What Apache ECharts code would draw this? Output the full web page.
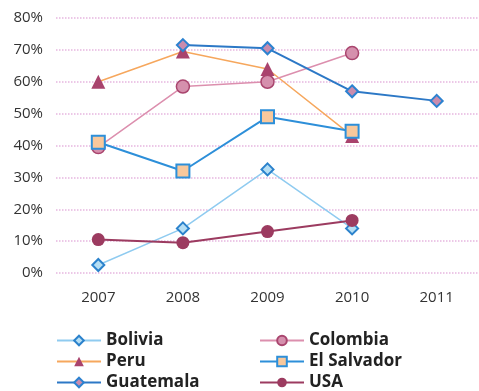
<!DOCTYPE html>
<html><head><meta charset="utf-8">
<script src="https://cdn.jsdelivr.net/npm/echarts@6/dist/echarts.min.js"></script>
<style>html,body{margin:0;padding:0;background:#fff}#c{width:479px;height:391px}</style>
</head><body><div id="c"></div>
<script>
const years = ['2007','2008','2009','2010','2011'];
const bolivia = [2.5, 14, 32.5, 14, null];
const peru = [60, 69.5, 64, 43, null];
const guatemala = [null, 71.5, 70.5, 57, 54];
const colombia = [39.5, 58.5, 60, 69, null];
const elSalvador = [41, 32, 49, 44.5, null];
const usa = [10.5, 9.5, 13, 16.5, null];
const yTicks = [0, 10, 20, 30, 40, 50, 60, 70, 80];

const chart = echarts.init(document.getElementById('c'));
function mk(name, data, lineColor, lineWidth, symbol, size, fill, border, bw, z) {
  return {
    name, type: 'line', data, symbol, symbolSize: size, showAllSymbol: true,
    connectNulls: false, z,
    lineStyle: { color: lineColor, width: lineWidth },
    itemStyle: { color: fill, borderColor: border, borderWidth: bw },
    emphasis: { disabled: true }
  };
}
const legendText = { fontFamily: 'Open Sans', fontWeight: 'bold', fontSize: 17, lineHeight: 17, color: '#222' };
chart.setOption({
  animation: false,
  grid: { left: 56, right: -2, top: 18, bottom: 118 },
  xAxis: {
    type: 'category', data: years, boundaryGap: true,
    axisLine: { show: false }, axisTick: { show: false },
    axisLabel: { fontFamily: 'Open Sans', fontSize: 15, color: '#333', margin: 17 }
  },
  yAxis: {
    type: 'value', min: yTicks[0], max: yTicks[yTicks.length - 1], interval: 10,
    axisLabel: { formatter: '{value}%', fontFamily: 'Open Sans', fontSize: 15, color: '#333', margin: 13 },
    splitLine: { lineStyle: { color: '#e6b6df', type: 'dotted', width: 1.5 } }
  },
  legend: [
    { left: 56, top: 332, height: 70, padding: 0, orient: 'vertical', itemWidth: 44, itemHeight: 12, itemGap: 4,
      data: ['Bolivia', 'Peru', 'Guatemala'], textStyle: legendText },
    { left: 259, top: 332, height: 70, padding: 0, orient: 'vertical', itemWidth: 44, itemHeight: 12, itemGap: 4,
      data: ['Colombia', 'El Salvador', 'USA'], textStyle: legendText }
  ],
  series: [
    mk('Bolivia', bolivia, '#8fcbf0', 1.5, 'diamond', 12, '#b5def4', '#2b82cc', 2, 3),
    mk('Colombia', colombia, '#dc8fae', 1.5, 'circle', 13, '#d590ad', '#a9456e', 1.5, 3),
    mk('Peru', peru, '#f6a75d', 1.5, 'triangle', 14, '#a9436d', '#a9436d', 0, 2),
    mk('El Salvador', elSalvador, '#2d8fd9', 2, 'rect', 13, '#f8c89c', '#2d8fd9', 2, 4),
    mk('Guatemala', guatemala, '#2c78c6', 2, 'diamond', 12, '#c98cae', '#2c82d0', 2, 3),
    mk('USA', usa, '#9c3b60', 2, 'circle', 13, '#9c3b60', '#9c3b60', 0, 3)
  ]
});
</script></body></html>
